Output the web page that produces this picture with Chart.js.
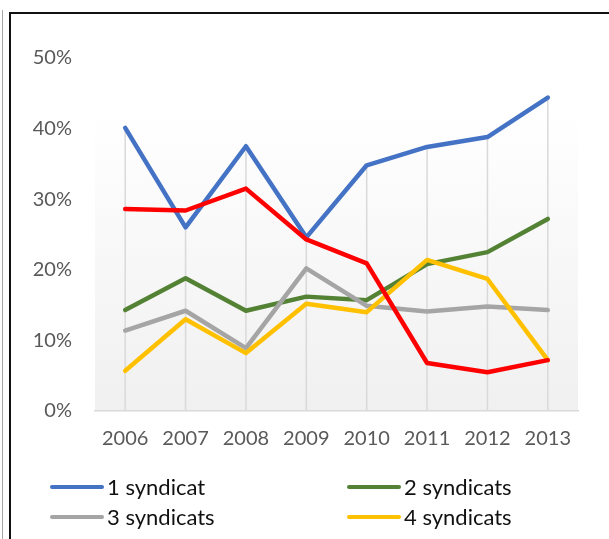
<!DOCTYPE html>
<html>
<head>
<meta charset="utf-8">
<script src="https://cdn.jsdelivr.net/npm/chart.js@4.4.1/dist/chart.umd.min.js"></script>
<style>
  html, body { margin: 0; padding: 0; background: #fff; }
  #wrap { position: relative; width: 609px; height: 539px; overflow: hidden; }
  #edge { position: absolute; left: 2px; top: 10px; bottom: 0; border-left: 1px solid #a6a6a6; }
  #frame { position: absolute; left: 9px; top: 12px; right: -10px; bottom: -10px;
           border-left: 2px solid #111; border-top: 2px solid #111; }
  #syndicatChart { position: absolute; left: 0; top: 0; }
</style>
</head>
<body>
<div id="wrap">
  <div id="edge"></div>
  <div id="frame"></div>
  <canvas id="syndicatChart" width="609" height="539"></canvas>
</div>
<script>
// Values (percent)
const years = ['2006', '2007', '2008', '2009', '2010', '2011', '2012', '2013'];
const oneUnion = [40.1, 26.0, 37.5, 24.6, 34.8, 37.4, 38.8, 44.4];
const twoUnions = [14.3, 18.8, 14.2, 16.2, 15.7, 20.8, 22.5, 27.2];
const threeUnions = [11.4, 14.2, 8.9, 20.2, 14.9, 14.1, 14.8, 14.3];
const fourUnions = [5.7, 13.0, 8.2, 15.2, 14.0, 21.4, 18.7, 7.2];
const otherShare = [28.6, 28.4, 31.5, 24.3, 20.9, 6.8, 5.5, 7.2];
const yTicks = [0, 10, 20, 30, 40, 50];

const legendNames = ['1 syndicat', '2 syndicats', '3 syndicats', '4 syndicats'];
const colors = {
  blue: '#4472C4',
  green: '#548235',
  gray: '#A5A5A5',
  yellow: '#FFC000',
  red: '#FF0000',
  axisText: '#595959',
  drop: '#d9d9d9',
};
const FONT = 'Lato, "Open Sans", sans-serif';

function lineSet(label, data, color, order) {
  return {
    label: label,
    data: data,
    borderColor: color,
    backgroundColor: color,
    borderWidth: 4.5,
    borderCapStyle: 'round',
    borderJoinStyle: 'round',
    pointRadius: 0,
    tension: 0,
    fill: false,
    order: order,
  };
}

// plot area gradient (white -> light gray)
const plotBackground = {
  id: 'plotBackground',
  beforeDraw(chart) {
    const a = chart.chartArea;
    const ctx = chart.ctx;
    const g = ctx.createLinearGradient(0, a.top, 0, a.bottom);
    g.addColorStop(0, '#ffffff');
    g.addColorStop(0.15, '#ffffff');
    g.addColorStop(1, '#f0f0f0');
    ctx.save();
    ctx.fillStyle = g;
    ctx.fillRect(a.left, a.top, a.right - a.left, a.bottom - a.top);
    ctx.restore();
  }
};

// drop lines from highest legend series down to the axis
const dropLines = {
  id: 'dropLines',
  beforeDatasetsDraw(chart) {
    const xs = chart.scales.x, ys = chart.scales.y;
    const ctx = chart.ctx;
    ctx.save();
    ctx.strokeStyle = colors.drop;
    ctx.lineWidth = 1.5;
    years.forEach((y, i) => {
      const top = Math.max(oneUnion[i], twoUnions[i], threeUnions[i], fourUnions[i]);
      const x = xs.getPixelForValue(i);
      ctx.beginPath();
      ctx.moveTo(x, ys.getPixelForValue(top));
      ctx.lineTo(x, ys.getPixelForValue(0));
      ctx.stroke();
    });
    ctx.restore();
  }
};

// two-column legend at the bottom
const bottomLegend = {
  id: 'bottomLegend',
  afterDraw(chart) {
    const ctx = chart.ctx;
    const items = [
      [legendNames[0], colors.blue, 50, 487],
      [legendNames[1], colors.green, 347, 487],
      [legendNames[2], colors.gray, 50, 517],
      [legendNames[3], colors.yellow, 347, 517],
    ];
    ctx.save();
    ctx.font = '22px ' + FONT;
    ctx.textBaseline = 'middle';
    ctx.fillStyle = '#111';
    items.forEach(([text, col, x, y]) => {
      ctx.strokeStyle = col;
      ctx.lineWidth = 4;
      ctx.lineCap = 'round';
      ctx.beginPath();
      ctx.moveTo(x + 2, y);
      ctx.lineTo(x + 52, y);
      ctx.stroke();
      ctx.fillText(text, x + 57, y + 1);
    });
    ctx.restore();
  }
};

function initChart() {
  const ctx = document.getElementById('syndicatChart');
  new Chart(ctx, {
    type: 'line',
    data: {
      labels: years,
      datasets: [
        lineSet(legendNames[0], oneUnion, colors.blue, 5),
        lineSet(legendNames[1], twoUnions, colors.green, 4),
        lineSet(legendNames[2], threeUnions, colors.gray, 3),
        lineSet(legendNames[3], fourUnions, colors.yellow, 2),
        lineSet('', otherShare, colors.red, 1),
      ]
    },
    options: {
      responsive: false,
      animation: false,
      layout: { padding: { top: 58, right: 31, bottom: 68, left: 0 } },
      plugins: {
        legend: { display: false },
        tooltip: { enabled: false },
      },
      scales: {
        x: {
          offset: true,
          grid: { display: false, drawTicks: false },
          border: { display: true, color: colors.drop, width: 1.5 },
          ticks: {
            color: colors.axisText,
            font: { family: FONT, size: 20 },
            padding: 16,
            maxRotation: 0,
          },
          afterFit(scale) { scale.height = 60; },
        },
        y: {
          min: yTicks[0],
          max: yTicks[yTicks.length - 1],
          afterBuildTicks(scale) { scale.ticks = yTicks.map(v => ({ value: v })); },
          grid: { display: false, drawTicks: false },
          border: { display: false },
          ticks: {
            color: colors.axisText,
            font: { family: FONT, size: 20 },
            padding: 23,
            callback: v => v + '%',
          },
          afterFit(scale) { scale.width = 95; },
        }
      }
    },
    plugins: [plotBackground, dropLines, bottomLegend]
  });
}

document.fonts.load('20px Lato').then(initChart, initChart);
</script>
</body>
</html>
